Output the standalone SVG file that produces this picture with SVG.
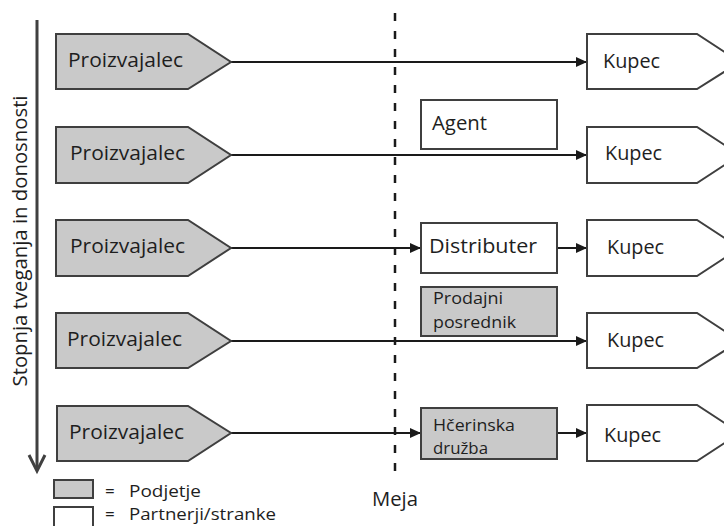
<svg xmlns="http://www.w3.org/2000/svg" width="724" height="526" viewBox="0 0 724 526">
<defs>
<style>
.gray{fill:#c9c9c9;stroke:#3f3f3f;stroke-width:2}
.white{fill:#ffffff;stroke:#3f3f3f;stroke-width:2}
.t{font-family:"Open Sans","DejaVu Sans",sans-serif;font-size:20px;fill:#1e1e1e}
.s{font-family:"Open Sans","DejaVu Sans",sans-serif;font-size:17px;fill:#1e1e1e}
.c{stroke:#1a1a1a;stroke-width:2;fill:none;marker-end:url(#ah)}
</style>
<marker id="ah" markerWidth="12" markerHeight="12" refX="11" refY="6" orient="auto" markerUnits="userSpaceOnUse">
<path d="M0,1 L11,6 L0,11 z" fill="#1a1a1a"/>
</marker>
</defs>
<rect width="724" height="526" fill="#ffffff"/>

<g id="axis">
<line x1="37" y1="20" x2="37" y2="470" stroke="#404040" stroke-width="3"/>
<polyline points="29,455 37,471 45,455" fill="none" stroke="#404040" stroke-width="3"/>
<text class="t" transform="translate(27,241) rotate(-90)" text-anchor="middle" font-size="18" textLength="291" lengthAdjust="spacingAndGlyphs">Stopnja tveganja in donosnosti</text>
</g>

<g id="border">
<line x1="395" y1="13" x2="395" y2="480" stroke="#1a1a1a" stroke-width="2.5" stroke-dasharray="8 10"/>
<text class="t" x="372" y="506" textLength="46" lengthAdjust="spacingAndGlyphs">Meja</text>
</g>

<g id="connectors">
<line class="c" x1="231" y1="62" x2="587" y2="62"/>
<line class="c" x1="231" y1="155" x2="587" y2="155" stroke="#555"/>
<line class="c" x1="231" y1="248" x2="421" y2="248"/>
<line class="c" x1="557" y1="248" x2="587" y2="248"/>
<line class="c" x1="231" y1="341" x2="587" y2="341"/>
<line class="c" x1="231" y1="433" x2="421" y2="433"/>
<line class="c" x1="557" y1="433" x2="587" y2="433"/>
</g>

<g id="p1"><path class="gray" d="M56,34 H188 L231,62 L188,89 H56 Z"/><text class="t" x="68" y="67" textLength="115" lengthAdjust="spacingAndGlyphs">Proizvajalec</text></g>
<g id="p2"><path class="gray" d="M56,127 H188 L231,155 L188,183 H56 Z"/><text class="t" x="70" y="160" textLength="115" lengthAdjust="spacingAndGlyphs">Proizvajalec</text></g>
<g id="p3"><path class="gray" d="M56,220 H188 L231,248 L188,276 H56 Z"/><text class="t" x="70" y="253" textLength="115" lengthAdjust="spacingAndGlyphs">Proizvajalec</text></g>
<g id="p4"><path class="gray" d="M56,313 H188 L231,341 L188,368 H56 Z"/><text class="t" x="67" y="346" textLength="115" lengthAdjust="spacingAndGlyphs">Proizvajalec</text></g>
<g id="p5"><path class="gray" d="M57,406 H188 L231,433 L188,461 H57 Z"/><text class="t" x="69" y="439" textLength="115" lengthAdjust="spacingAndGlyphs">Proizvajalec</text></g>

<g id="k1"><path class="white" d="M587,34 H697 L740,62 L697,89 H587 Z"/><text class="t" x="603" y="68" textLength="57" lengthAdjust="spacingAndGlyphs">Kupec</text></g>
<g id="k2"><path class="white" d="M587,127 H697 L740,155 L697,183 H587 Z"/><text class="t" x="605" y="160" textLength="57" lengthAdjust="spacingAndGlyphs">Kupec</text></g>
<g id="k3"><path class="white" d="M587,220 H697 L740,248 L697,276 H587 Z"/><text class="t" x="607" y="254" textLength="57" lengthAdjust="spacingAndGlyphs">Kupec</text></g>
<g id="k4"><path class="white" d="M587,313 H697 L740,341 L697,368 H587 Z"/><text class="t" x="607" y="347" textLength="57" lengthAdjust="spacingAndGlyphs">Kupec</text></g>
<g id="k5"><path class="white" d="M587,405 H697 L740,433 L697,461 H587 Z"/><text class="t" x="604" y="442" textLength="57" lengthAdjust="spacingAndGlyphs">Kupec</text></g>

<g id="agent"><rect class="white" x="421" y="100" width="136" height="49"/><text class="t" x="432" y="130" textLength="55" lengthAdjust="spacingAndGlyphs">Agent</text></g>
<g id="distributer"><rect class="white" x="421" y="223" width="136" height="50"/><text class="t" x="429" y="253" textLength="108" lengthAdjust="spacingAndGlyphs">Distributer</text></g>
<g id="posrednik"><rect class="gray" x="421" y="287" width="136" height="49"/><text class="s" x="433" y="304" textLength="70" lengthAdjust="spacingAndGlyphs">Prodajni</text><text class="s" x="433" y="328" textLength="83" lengthAdjust="spacingAndGlyphs">posrednik</text></g>
<g id="hcerinska"><rect class="gray" x="421" y="408" width="136" height="51"/><text class="s" x="433" y="431" textLength="82" lengthAdjust="spacingAndGlyphs">Hčerinska</text><text class="s" x="433" y="454" textLength="55" lengthAdjust="spacingAndGlyphs">družba</text></g>

<g id="legend">
<rect class="gray" x="54" y="480" width="39" height="18"/>
<text class="s" x="105" y="497">=</text>
<text class="s" x="129" y="497" textLength="72" lengthAdjust="spacingAndGlyphs">Podjetje</text>
<rect class="white" x="54" y="507" width="39" height="22"/>
<text class="s" x="105" y="520">=</text>
<text class="s" x="129" y="520" textLength="147" lengthAdjust="spacingAndGlyphs">Partnerji/stranke</text>
</g>
</svg>
